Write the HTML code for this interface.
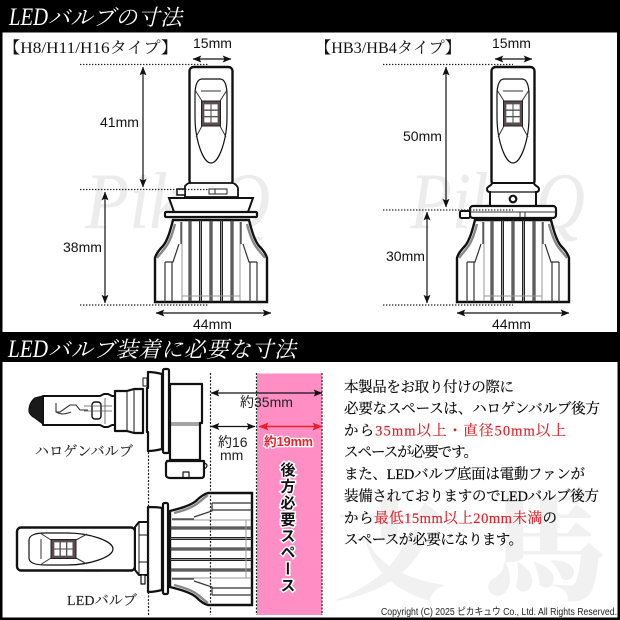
<!DOCTYPE html>
<html lang="ja">
<head>
<meta charset="utf-8">
<style>
html,body{margin:0;padding:0;background:#fff;width:620px;height:620px;overflow:hidden}
svg{display:block}
.t{font-family:"Liberation Serif","Noto Serif CJK JP",serif}
.s{font-family:"Liberation Sans","Noto Sans CJK JP",sans-serif}
.d{font-family:"Liberation Sans","Noto Sans CJK JP",sans-serif;font-size:14px;fill:#111}
.p{font-family:"Liberation Serif","Noto Serif CJK JP",serif;font-size:14.500px;fill:#000;stroke:#000;stroke-width:.15}
.r{fill:#d8232a;stroke:#d8232a}
</style>
</head>
<body>
<svg xmlns="http://www.w3.org/2000/svg" width="620" height="620" viewBox="0 0 620 620">
<defs>
  <marker id="a" viewBox="0 0 10 8" refX="9.5" refY="4" markerWidth="9" markerHeight="7" orient="auto-start-reverse" markerUnits="userSpaceOnUse"><path d="M0,0L10,4L0,8L2,4Z" fill="#111"/></marker>
  <marker id="ar" viewBox="0 0 10 8" refX="9.5" refY="4" markerWidth="10" markerHeight="8" orient="auto-start-reverse" markerUnits="userSpaceOnUse"><path d="M0,0L10,4L0,8L2,4Z" fill="#e8202a"/></marker>
  <g id="body">
    <path d="M-38,220C-40,228-43,240-48,246C-52,250-55,254-56,258L-56,302L56,302L56,258C55,254 52,250 48,246C43,240 40,228 38,220Z" fill="#fff" stroke="#111" stroke-width="2.400"/>
    <path d="M-36,224C-38,232-41,242-46,248C-49,252-52,255-54,258M36,224C38,232 41,242 46,248C49,252 52,255 54,258" fill="none" stroke="#888" stroke-width="2.400"/>
    <g stroke="#222" stroke-width="3" fill="none">
      <path d="M-21,220V302M-10.500,220V302M0,220V302M10.500,220V302M21,220V302"/>
    </g>
    <g stroke="#999" stroke-width="1" fill="none">
      <path d="M-21,221V301M-10.500,221V301M0,221V301M10.500,221V301M21,221V301"/>
      <path d="M-29,296H29M-29,222V301M29,222V301"/>
    </g>
    <path d="M-32,244L-38,262H-46M32,244L38,262H46M-39,262V302M-46,262V302M39,262V302M46,262V302" fill="none" stroke="#333" stroke-width="1.200"/>
    <path d="M-30,222V244M30,222V244" fill="none" stroke="#333" stroke-width="1.200"/>
  </g>
  <g id="head">
    <rect x="-21.500" y="67" width="43" height="118" rx="4" fill="#fff" stroke="#111" stroke-width="2.400"/>
    <path d="M-9,79H9C14,79 16,86 16,95V117C16,140 8,163 0,163C-8,163-16,140-16,117V95C-16,86-14,79-9,79Z" fill="#fff" stroke="#111" stroke-width="1.200"/>
    <path d="M-10,91H10M-16,90L-9,101M16,90L9,101M-15,137L-9,126M15,137L9,126" fill="none" stroke="#333" stroke-width="1"/>
    <rect x="-9.500" y="101" width="19" height="25" fill="#5d4a4e" stroke="#222"/>
    <g fill="#fff" stroke="#555" stroke-width=".7"><rect x="-7" y="104" width="6.800" height="5.800"/><rect x=".2" y="104" width="6.800" height="5.800"/><rect x="-7" y="110.500" width="6.800" height="5.800"/><rect x=".2" y="110.500" width="6.800" height="5.800"/><rect x="-7" y="117" width="6.800" height="5.800"/><rect x=".2" y="117" width="6.800" height="5.800"/></g>
  </g>
</defs>

<rect width="620" height="620" fill="#fff"/>

<!-- watermarks -->
<g font-family="Liberation Serif,serif" font-style="italic" fill="#ececec">
  <text x="85" y="228" font-size="80" textLength="185" lengthAdjust="spacingAndGlyphs">PikaQ</text>
  <text x="410" y="228" font-size="80" textLength="175" lengthAdjust="spacingAndGlyphs">PikaQ</text>
  <text x="85" y="572" font-size="50" fill="#efefef" textLength="150" lengthAdjust="spacingAndGlyphs">PikaQ</text>
</g>
<g font-family="Noto Serif CJK JP,serif" font-weight="900" fill="#f1f1f1">
  <text x="334" y="590" font-size="112">支</text>
  <text x="485" y="590" font-size="122">馬</text>
</g>

<!-- frame and headers -->
<rect x="0" y="0" width="620" height="32.500" fill="#000"/>
<rect x="0" y="32" width="2.500" height="300" fill="#000"/>
<rect x="617" y="32" width="3" height="300" fill="#000"/>
<rect x="0" y="332" width="620" height="30" fill="#000"/>
<rect x="0" y="362" width="2.500" height="258" fill="#000"/>
<rect x="617.500" y="362" width="2.500" height="258" fill="#000"/>
<rect x="0" y="617.500" width="620" height="2.500" fill="#000"/>
<text class="t" x="9" y="25" font-size="25" font-style="italic" fill="#fff" textLength="39" lengthAdjust="spacingAndGlyphs">LED</text>
<text class="t" x="48" y="25" font-size="22" font-style="italic" fill="#fff" textLength="134" lengthAdjust="spacing">バルブの寸法</text>
<text class="t" x="8" y="357" font-size="25" font-style="italic" fill="#fff" textLength="40" lengthAdjust="spacingAndGlyphs">LED</text>
<text class="t" x="48" y="357" font-size="22" font-style="italic" fill="#fff" textLength="248" lengthAdjust="spacing">バルブ装着に必要な寸法</text>

<text class="t" x="3" y="53" font-size="16" fill="#111" textLength="175" lengthAdjust="spacingAndGlyphs">【H8/H11/H16タイプ】</text>
<text class="t" x="315" y="53" font-size="16" fill="#111" textLength="146" lengthAdjust="spacingAndGlyphs">【HB3/HB4タイプ】</text>

<!-- bulb 1 -->
<g transform="translate(211,0)">
  <use href="#head"/>
  <path d="M-26,188V186C-24,184-23,183-21,183H21C23,183 26,185 27,188V197H-26Z" fill="#fff" stroke="#111" stroke-width="1.800"/>
  <rect x="-34" y="189" width="8" height="6" fill="#fff" stroke="#111" stroke-width="1.500"/>
  <path d="M-2,189H16V194H-2Z M4,189V194" fill="#fff" stroke="#222"/>
  <path d="M-42,198H42L37,212H-37Z" fill="#fff" stroke="#111" stroke-width="2"/>
  <rect x="-46" y="212" width="92" height="5" rx="1" fill="#fff" stroke="#111" stroke-width="2.200"/>
  <use href="#body"/>
</g>

<!-- bulb 2 -->
<g transform="translate(513,0)">
  <use href="#head"/>
  <path d="M-21,183C-21,186-26,186-26,189C-26,191-25,192-23,192V206H23V192C25,192 26,191 26,189C26,186 21,186 21,183Z" fill="#fff" stroke="#111" stroke-width="2"/>
  <path d="M-25,192H25" stroke="#111" stroke-width="1.200"/>
  <circle cx="0" cy="199" r="3.300" fill="#fff" stroke="#111" stroke-width="2.200"/>
  <rect x="-43" y="206" width="86" height="12" rx="3" fill="#fff" stroke="#111" stroke-width="2.200"/>
  <rect x="-53" y="211" width="10" height="7" rx="1.500" fill="#fff" stroke="#111" stroke-width="2"/>
  <path d="M-43,212H43M7,212V217M12,212V217" stroke="#333" fill="none"/>
  <use href="#body"/>
</g>

<!-- dotted guides top -->
<g stroke="#222" stroke-width="1.300" stroke-dasharray="1.400 1.600" fill="none">
  <path d="M80,64.500H209M80,189.500H209M80,305H209"/>
  <path d="M383,64.500H513M383,210H513M383,305H513"/>
</g>

<!-- dimension arrows top -->
<g stroke="#111" stroke-width="1.200" fill="none">
  <path d="M193,59H231" marker-start="url(#a)" marker-end="url(#a)"/>
  <path d="M143,67V187" marker-start="url(#a)" marker-end="url(#a)"/>
  <path d="M105,192V303" marker-start="url(#a)" marker-end="url(#a)"/>
  <path d="M156,313H271" marker-start="url(#a)" marker-end="url(#a)"/>
  <path d="M495,59H532" marker-start="url(#a)" marker-end="url(#a)"/>
  <path d="M446,67V207" marker-start="url(#a)" marker-end="url(#a)"/>
  <path d="M427,212V303" marker-start="url(#a)" marker-end="url(#a)"/>
  <path d="M457,313H569" marker-start="url(#a)" marker-end="url(#a)"/>
</g>
<text class="d" x="193" y="48">15mm</text>
<text class="d" x="100" y="127">41mm</text>
<text class="d" x="63" y="252">38mm</text>
<text class="d" x="193" y="329">44mm</text>
<text class="d" x="492" y="48">15mm</text>
<text class="d" x="403" y="141">50mm</text>
<text class="d" x="386" y="261">30mm</text>
<text class="d" x="492" y="329">44mm</text>

<!-- pink zone -->
<rect x="257" y="373.500" width="65" height="241.500" fill="#ff8ec4"/>

<!-- halogen bulb -->
<g stroke="#111" fill="#fff" stroke-linejoin="round">
  <path d="M43,396H100L104,394H108L112,396H115V425H112L108,427H104L100,425H43Z" stroke-width="2"/>
  <path d="M43,396L35,398C31,401 29,406 29,411C29,413 31,416 35,418L43,424Z" fill="#1a1a1a" stroke-width="1.200"/>
  <path d="M56,403V412H60L70,405H76L80,410H88M56,412C62,415 66,414 71,412" fill="none" stroke="#333" stroke-width="1.100"/>
  <rect x="92" y="402" width="9" height="17" rx="3" fill="none" stroke-width="1.400"/>
  <path d="M84,406H112M84,411H112M105,398V424" stroke="#555" fill="none" stroke-width=".8"/>
  <path d="M115,391H127L134,389H143V433H134L127,431H115Z" stroke-width="2.200"/>
  <path d="M127,391V431M134,389V433" fill="none" stroke-width="1"/>
  <rect x="143" y="378" width="4" height="8" stroke-width="1"/>
  <path d="M147,388H148V372C152,372 158,373 162,374V449C158,450 152,451 148,451V432H147Z" stroke-width="2.200"/>
  <rect x="163" y="369" width="6" height="84" rx="1.500" stroke-width="2.200"/>
  <path d="M170,384H202V423H200V460H170Z" stroke-width="2.200"/>
  <path d="M170,423H200M170,425H200" stroke-width=".8" fill="none"/>
  <path d="M167,461H204V475C204,477 203,478 201,478H170C168,478 166,477 166,475V463Z" stroke-width="2.200"/>
  <path d="M183,478V472H189V478" stroke-width="1.200" fill="none"/>
  <path d="M204,463C208,464 208,467 204,469" stroke-width="1.200" fill="none"/>
</g>

<!-- LED bulb horizontal -->
<g transform="translate(-50,549) rotate(-90)">
  <use href="#head"/>
  <use href="#body"/>
</g>
<g stroke="#111" fill="#fff" stroke-linejoin="round">
  <path d="M135,527L139,522H148V575H139L135,570Z" stroke-width="2"/>
  <path d="M139,522V575M139,535H148M139,562H148" stroke-width="1" fill="none"/>
  <rect x="141" y="575" width="4" height="9" stroke-width="1.200"/>
  <path d="M148,507C153,507 158,507 162,508V590C158,591 153,592 148,592Z" stroke-width="2.200"/>
  <rect x="163" y="503" width="5" height="91" rx="1.500" stroke-width="2.200"/>
</g>

<!-- guides bottom -->
<g stroke="#222" stroke-width="1.200" stroke-dasharray="2 1.500" fill="none">
  <path d="M148.500,452V615M148.500,494V505"/>
  <path d="M210.500,373V615M256.500,373V615M322,373V615"/>
</g>

<!-- bottom arrows -->
<path d="M211,393H322" stroke="#111" stroke-width="1.200" fill="none" marker-start="url(#a)" marker-end="url(#a)"/>
<path d="M211,426.500H255" stroke="#111" stroke-width="1.200" fill="none" marker-start="url(#a)" marker-end="url(#a)"/>
<path d="M259,426.500H322" stroke="#e8202a" stroke-width="1.400" fill="none" marker-start="url(#ar)" marker-end="url(#ar)"/>

<text class="s" x="240" y="407" font-size="14" fill="#222">約35mm</text>
<text class="s" x="218" y="447" font-size="14" fill="#222">約16</text>
<text class="s" x="220" y="460" font-size="14" fill="#222">mm</text>
<text class="s" x="264" y="446" font-size="12.500" font-weight="700" fill="#e8202a" stroke="#fff" stroke-width="2.500" paint-order="stroke" textLength="49" lengthAdjust="spacingAndGlyphs">約19mm</text>
<text class="s" x="288" y="462" font-size="15" font-weight="700" fill="#111" stroke="#fff" stroke-width="3" paint-order="stroke" style="writing-mode:vertical-rl;letter-spacing:1.500px;font-family:'Noto Sans CJK JP',sans-serif">後方必要スペース</text>

<text class="t" x="35" y="456" font-size="14" fill="#222" stroke="#222" stroke-width=".15" textLength="98" lengthAdjust="spacing">ハロゲンバルブ</text>
<text class="t" x="67" y="605" font-size="14" fill="#222" stroke="#222" stroke-width=".15" textLength="70" lengthAdjust="spacing">LEDバルブ</text>

<!-- paragraph -->
<text class="p" x="344" y="392" textLength="170">本製品をお取り付けの際に</text>
<text class="p" x="344" y="413.500" textLength="256">必要なスペースは、ハロゲンバルブ後方</text>
<text class="p" x="344" y="435.500" textLength="222">から<tspan class="r">35mm以上・直径50mm以上</tspan></text>
<text class="p" x="344" y="457" textLength="134">スペースが必要です。</text>
<text class="p" x="344" y="479" textLength="241">また、LEDバルブ底面は電動ファンが</text>
<text class="p" x="344" y="501" textLength="255">装備されておりますのでLEDバルブ後方</text>
<text class="p" x="344" y="523" textLength="213">から<tspan class="r">最低15mm以上20mm未満</tspan>の</text>
<text class="p" x="344" y="544.500" textLength="179">スペースが必要になります。</text>

<text class="s" x="381" y="615" font-size="10" fill="#222" textLength="236" lengthAdjust="spacingAndGlyphs">Copyright (C) 2025 ピカキュウ Co., Ltd. All Rights Reserved.</text>
</svg>
</body>
</html>
